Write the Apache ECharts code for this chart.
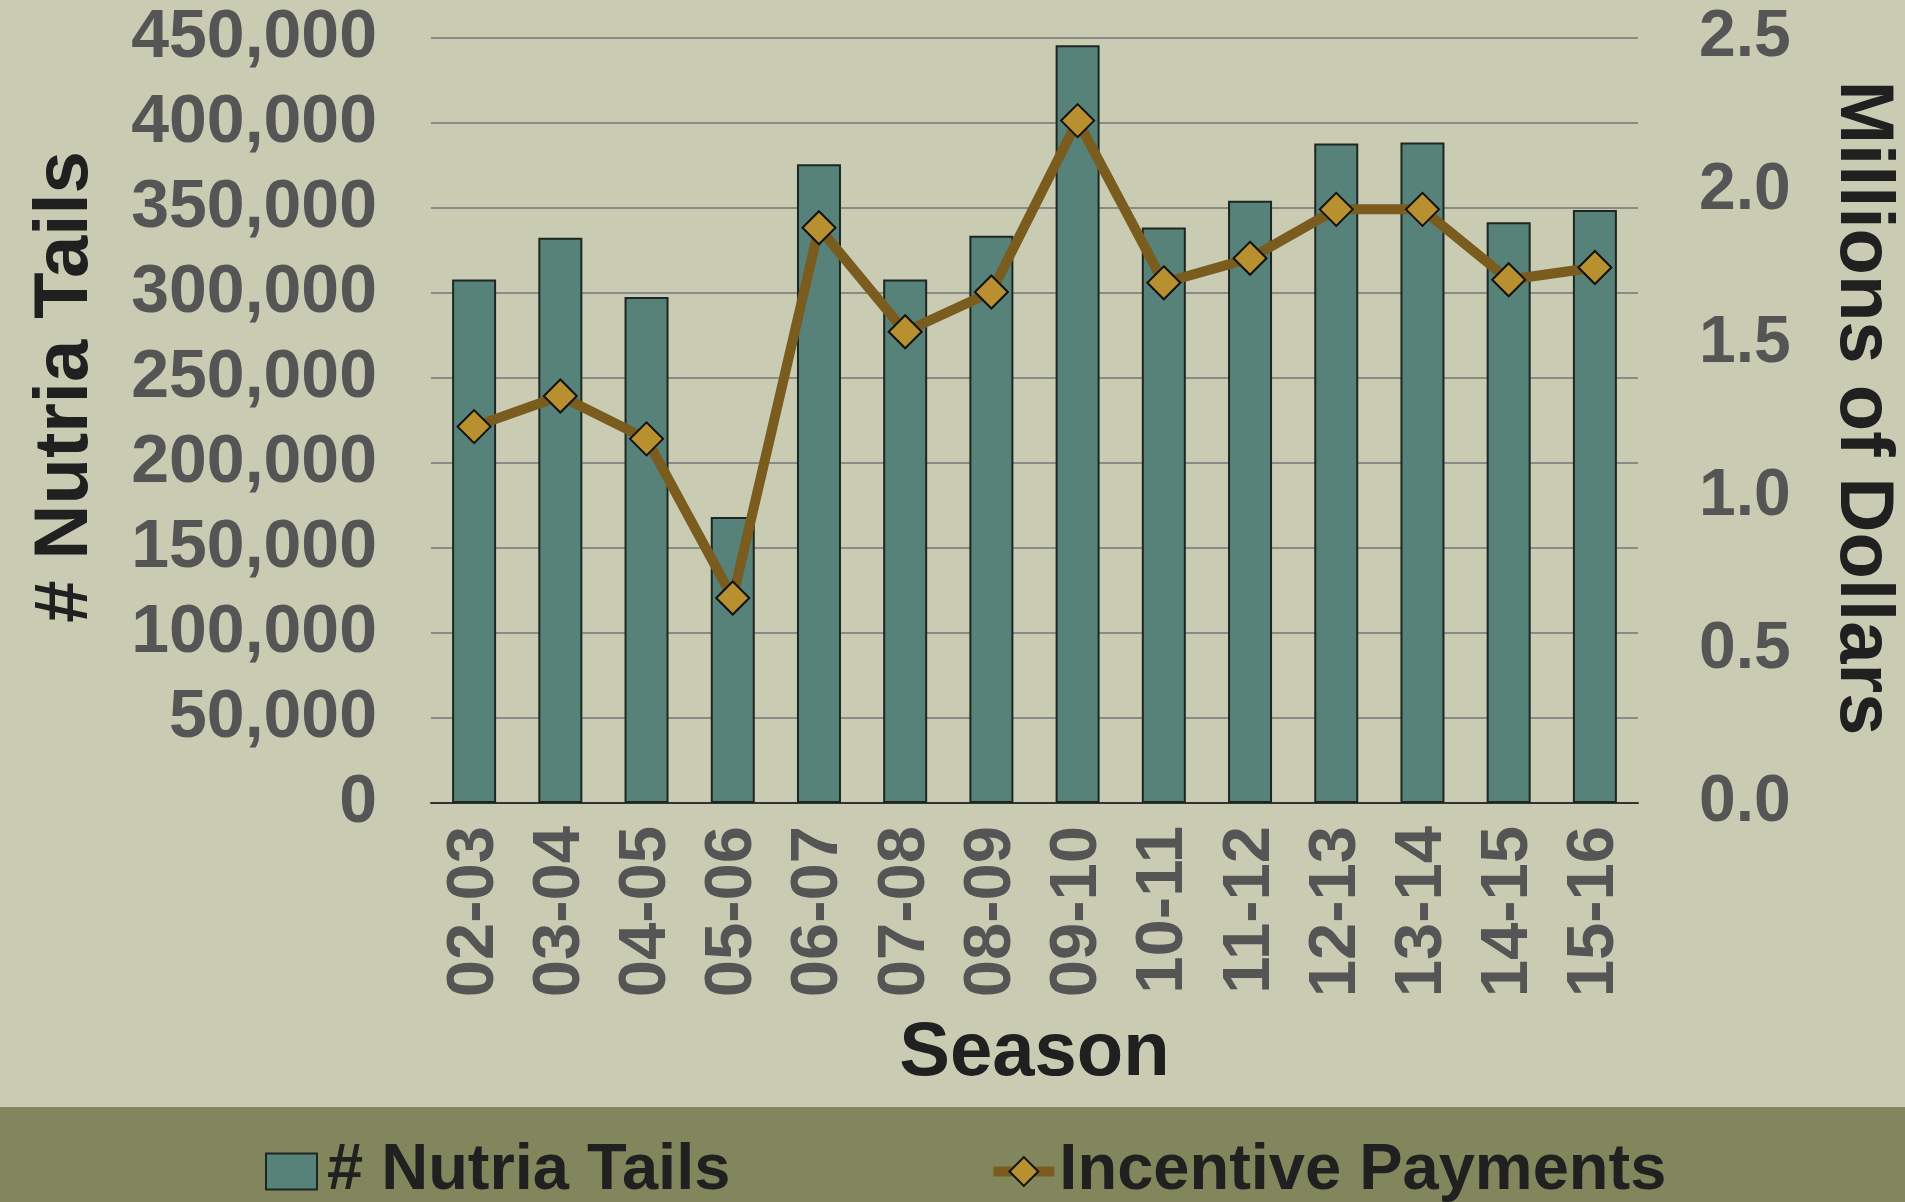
<!DOCTYPE html>
<html>
<head>
<meta charset="utf-8">
<script src="https://cdn.jsdelivr.net/npm/echarts@6/dist/echarts.min.js"></script>
<style>
  html, body { margin: 0; padding: 0; background: #c9ccb3; }
  #chart { width: 1905px; height: 1202px; }
</style>
</head>
<body>
<div id="chart"></div>
<script>
// seasons on the x axis
const seasons = ['02-03', '03-04', '04-05', '05-06', '06-07', '07-08', '08-09',
  '09-10', '10-11', '11-12', '12-13', '13-14', '14-15', '15-16'];

// number of nutria tails turned in (left axis)
const nutriaTails = [308000, 332500, 297600, 168200, 375700, 308000, 333700,
  445700, 338600, 354300, 388000, 388600, 341600, 348800];

// incentive payments, millions of dollars (right axis)
const incentivePayments = [1.23, 1.33, 1.19, 0.67, 1.88, 1.54, 1.67,
  2.23, 1.70, 1.78, 1.94, 1.94, 1.71, 1.75];

const FONT = '"Liberation Sans", Arial, sans-serif';

const chart = echarts.init(document.getElementById('chart'));

// rotated axis titles and the olive legend band are placed by hand
const graphics = [
  {
    type: 'rect',
    z: 0,
    shape: { x: 0, y: 1107, width: 1905, height: 95 },
    style: { fill: '#82865c' }
  },
  {
    type: 'text',
    x: 66, y: 387,
    rotation: Math.PI / 2,
    style: {
      text: '# Nutria Tails', fill: '#202020',
      font: 'bold 76px ' + FONT, align: 'center', verticalAlign: 'middle'
    }
  },
  {
    type: 'text',
    x: 1862, y: 408,
    rotation: -Math.PI / 2,
    style: {
      text: 'Millions of Dollars', fill: '#202020',
      font: 'bold 76px ' + FONT, align: 'center', verticalAlign: 'middle'
    }
  }
];

const option = {
  backgroundColor: '#c9ccb3',
  animation: false,
  textStyle: { fontFamily: FONT },
  graphic: graphics,
  grid: { left: 431, right: 267, top: 38, bottom: 399 },
  legend: {
    left: 260,
    top: 1134,
    itemWidth: 61,
    itemHeight: 36,
    itemGap: 258,
    textStyle: {
      fontSize: 65, fontWeight: 'bold', color: '#202020', fontFamily: FONT
    },
    data: [
      // bar swatch is narrower than the line swatch
      { name: '# Nutria Tails', icon: 'path://M0,0H51V36H0Z' },
      { name: 'Incentive Payments', lineStyle: { width: 10, color: '#7a5c1f' } }
    ]
  },
  xAxis: {
    type: 'category',
    data: seasons,
    axisLine: { lineStyle: { color: '#333', width: 2 } },
    axisTick: { show: false },
    axisLabel: {
      interval: 0,
      rotate: 90,
      margin: 23,
      fontSize: 67,
      fontWeight: 'bold',
      color: '#555555',
      fontFamily: FONT
    },
    name: 'Season',
    nameLocation: 'middle',
    nameGap: 213,
    nameTextStyle: { fontSize: 76, fontWeight: 'bold', color: '#202020', fontFamily: FONT }
  },
  yAxis: [
    {
      type: 'value',
      min: 0,
      max: 450000,
      interval: 50000,
      axisLine: { show: false },
      axisTick: { show: false },
      splitLine: { lineStyle: { color: '#8a8a86', width: 2 } },
      axisLabel: {
        margin: 54,
        fontSize: 68,
        fontWeight: 'bold',
        color: '#555555',
        fontFamily: FONT,
        formatter: v => v.toLocaleString('en-US')
      }
    },
    {
      type: 'value',
      min: 0,
      max: 2.5,
      interval: 0.5,
      axisLine: { show: false },
      axisTick: { show: false },
      splitLine: { show: false },
      axisLabel: {
        margin: 61,
        fontSize: 66,
        fontWeight: 'bold',
        color: '#555555',
        fontFamily: FONT,
        formatter: v => v.toFixed(1)
      }
    }
  ],
  series: [
    {
      name: '# Nutria Tails',
      type: 'bar',
      data: nutriaTails,
      barWidth: 44,
      yAxisIndex: 0,
      itemStyle: { color: '#578279', borderColor: '#1e2622', borderWidth: 2 }
    },
    {
      name: 'Incentive Payments',
      type: 'line',
      data: incentivePayments,
      yAxisIndex: 1,
      symbol: 'diamond',
      symbolSize: 33,
      lineStyle: { color: '#7a5c1f', width: 10 },
      itemStyle: { color: '#b8902f', borderColor: '#111', borderWidth: 2 },
      z: 3
    }
  ]
};

chart.setOption(option);
</script>
</body>
</html>
